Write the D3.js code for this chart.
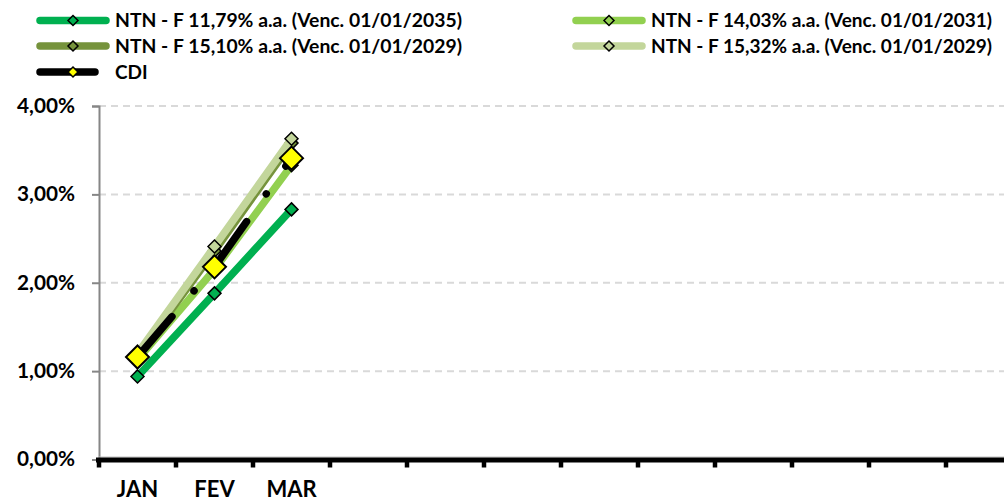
<!DOCTYPE html>
<html>
<head>
<meta charset="utf-8">
<script src="https://cdn.jsdelivr.net/npm/d3@7/dist/d3.min.js"></script>
<style>
  html, body { margin: 0; padding: 0; background: #fff; overflow: hidden; }
  svg { display: block; }
  text { font-family: Lato, "Open Sans", Arial, sans-serif; font-weight: 700; fill: #000; }
</style>
</head>
<body>
<svg id="chart" width="1004" height="503"></svg>
<script>
// ---- data ----
const months = ["JAN", "FEV", "MAR", "ABR", "MAI", "JUN", "JUL", "AGO", "SET", "OUT", "NOV", "DEZ"];
const monthLabels = ["JAN", "FEV", "MAR", "", "", "", "", "", "", "", "", ""];
const yTicks = [0, 1, 2, 3, 4];
const seriesNames = [
  "NTN - F 11,79% a.a. (Venc. 01/01/2035)",
  "NTN - F 14,03% a.a. (Venc. 01/01/2031)",
  "NTN - F 15,10% a.a. (Venc. 01/01/2029)",
  "NTN - F 15,32% a.a. (Venc. 01/01/2029)",
  "CDI"
];
const ntnf2035 = [0.94, 1.88, 2.83];
const ntnf2031 = [1.13, 2.15, 3.33];
const ntnf2029a = [1.17, 2.36, 3.58];
const ntnf2029b = [1.20, 2.41, 3.63];
const cdi = [1.16, 2.18, 3.41];
const seriesColors = ["#00B050", "#92D050", "#76933C", "#C3D69B", "#000000"];

const seriesValues = [ntnf2035, ntnf2031, ntnf2029a, ntnf2029b, cdi];

// ---- layout ----
const svg = d3.select("#chart");
const x = d3.scaleBand().domain(months).range([99, 1023]).paddingInner(0).paddingOuter(0);
const y = d3.scaleLinear().domain([0, 4]).range([459.5, 106]);
const cx = i => x(months[i]) + x.bandwidth() / 2;

// gridlines
svg.append("g").selectAll("line")
  .data(yTicks.filter(d => d > 0))
  .join("line")
  .attr("x1", 99).attr("x2", 1004)
  .attr("y1", d => y(d)).attr("y2", d => y(d))
  .attr("stroke", "#D9D9D9").attr("stroke-width", 2)
  .attr("stroke-dasharray", "7,5");

// y axis
const yAxis = d3.axisLeft(y).tickValues(yTicks)
  .tickFormat(d => d.toFixed(2).replace(".", ",") + "%")
  .tickSize(7).tickPadding(17);
const gy = svg.append("g").attr("transform", "translate(99,0)").call(yAxis);
gy.select(".domain").attr("stroke", "#868686").attr("stroke-width", 2);
gy.selectAll(".tick line").attr("stroke", "#868686").attr("stroke-width", 2);
gy.selectAll(".tick text").style("font-size", "20px").style("font-family", "Lato, sans-serif")
  .style("font-weight", "700").attr("fill", "#000")
  .attr("textLength", 58).attr("lengthAdjust", "spacingAndGlyphs");

// x axis: thin gray line, thick black line, boundary ticks
svg.append("line").attr("x1", 99).attr("x2", 1004).attr("y1", 457).attr("y2", 457)
  .attr("stroke", "#BFBFBF").attr("stroke-width", 1);
svg.append("g").selectAll("line")
  .data(months)
  .join("line")
  .attr("x1", d => x(d)).attr("x2", d => x(d))
  .attr("y1", 460).attr("y2", 467.5)
  .attr("stroke", "#000").attr("stroke-width", 4.5);
svg.append("line").attr("x1", 96).attr("x2", 1004).attr("y1", 460).attr("y2", 460)
  .attr("stroke", "#000").attr("stroke-width", 5);

const xAxis = d3.axisBottom(x).tickSize(0).tickPadding(0)
  .tickFormat((d, i) => monthLabels[i]);
const gx = svg.append("g").attr("transform", "translate(0,481)").call(xAxis);
gx.select(".domain").remove();
gx.selectAll(".tick text").style("font-size", "22px").style("font-family", "Lato, sans-serif")
  .style("font-weight", "700").attr("fill", "#000").attr("dy", "0.71em");

// series lines + markers
const line = d3.line().x((d, i) => cx(i)).y(d => y(d));
const diamond = (s) => `M0,${-s}L${s},0L0,${s}L${-s},0Z`;

seriesValues.forEach((vals, k) => {
  const g = svg.append("g");
  const isCDI = k === 4;
  g.append("path").datum(vals)
    .attr("d", line)
    .attr("fill", "none")
    .attr("stroke", seriesColors[k])
    .attr("stroke-width", 7.5)
    .attr("stroke-linejoin", "round")
    .attr("stroke-linecap", isCDI ? "round" : "butt")
    .attr("stroke-dasharray", isCDI ? "53,34,0.01,34" : null);
  g.selectAll("path.m").data(vals).join("path")
    .attr("class", "m")
    .attr("transform", (d, i) => `translate(${cx(i)},${y(d)})`)
    .attr("d", diamond(isCDI ? 11.5 : 6.5))
    .attr("fill", isCDI ? "#FFFF00" : seriesColors[k])
    .attr("stroke", "#000")
    .attr("stroke-width", isCDI ? 2 : 1.5);
});

// legend
const legendPos = [
  { x0: 40, x1: 106, mx: 73, tx: 115, y: 20.5 },
  { x0: 576, x1: 642, mx: 609, tx: 651, y: 20.5 },
  { x0: 40, x1: 106, mx: 73, tx: 115, y: 46 },
  { x0: 576, x1: 642, mx: 609, tx: 651, y: 46 },
  { x0: 40, x1: 95, mx: 73, tx: 115, y: 72 }
];
const legendWidths = [347, 341, 347, 341, null];
const lg = svg.append("g");
seriesNames.forEach((name, k) => {
  const p = legendPos[k];
  lg.append("line").attr("x1", p.x0).attr("x2", p.x1).attr("y1", p.y).attr("y2", p.y)
    .attr("stroke", seriesColors[k]).attr("stroke-width", 7.5).attr("stroke-linecap", "round");
  lg.append("path").attr("transform", `translate(${p.mx},${p.y})`)
    .attr("d", diamond(5))
    .attr("fill", k === 4 ? "#FFFF00" : seriesColors[k])
    .attr("stroke", "#000").attr("stroke-width", 1.5);
  const t = lg.append("text").attr("x", p.tx).attr("y", p.y).attr("dy", "0.36em")
    .style("font-size", "19px").text(name);
  if (legendWidths[k]) t.attr("textLength", legendWidths[k]).attr("lengthAdjust", "spacingAndGlyphs");
});
</script>
</body>
</html>
